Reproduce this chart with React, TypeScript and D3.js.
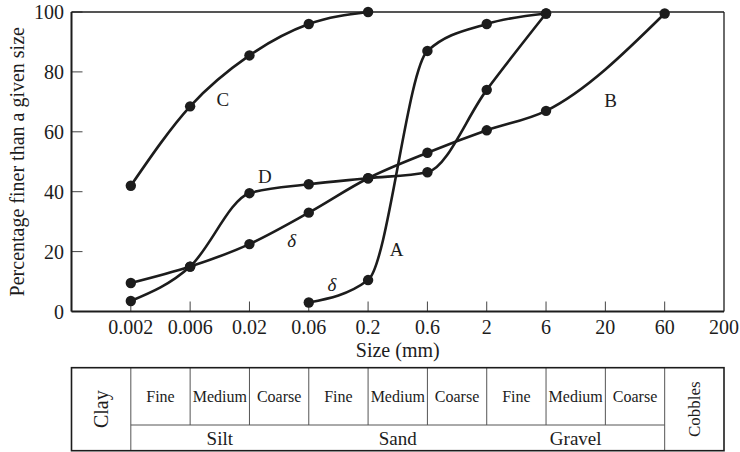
import React from "react";
import * as d3 from "d3";

// ---- data ----
const sizeTicks = ["0.002", "0.006", "0.02", "0.06", "0.2", "0.6", "2", "6", "20", "60", "200"];
const yTicks = [0, 20, 40, 60, 80, 100];

const seriesASizes = ["0.06", "0.2", "0.6", "2", "6"];
const seriesAValues = [3, 10.5, 87, 96, 99.5];

const seriesBSizes = ["0.002", "0.006", "0.02", "0.06", "0.2", "0.6", "2", "6", "60"];
const seriesBValues = [9.5, 15, 22.5, 33, 44.5, 53, 60.5, 67, 99.5];

const seriesCSizes = ["0.002", "0.006", "0.02", "0.06", "0.2"];
const seriesCValues = [42, 68.5, 85.5, 96, 100];

const seriesDSizes = ["0.002", "0.006", "0.02", "0.06", "0.2", "0.6", "2", "6"];
const seriesDValues = [3.5, 15, 39.5, 42.5, 44.5, 46.5, 74, 99.5];

// curve labels: [text, position on size-index axis, percent]
const curveLabels: [string, number, number, boolean][] = [
  ["C", 1.55, 71, false],
  ["D", 2.26, 45.2, false],
  ["B", 8.09, 70.6, false],
  ["A", 4.48, 20.9, false],
  ["δ", 2.71, 23.9, true],
  ["δ", 3.39, 9.2, true],
];

// soil classification table
const subClasses = ["Fine", "Medium", "Coarse", "Fine", "Medium", "Coarse", "Fine", "Medium", "Coarse"];
const mainClasses = ["Silt", "Sand", "Gravel"];
const edgeClasses = ["Clay", "Cobbles"];

const FONT = "'Liberation Serif', 'Times New Roman', Times, serif";
const INK = "#1c1c1c";

export default function App() {
  const W = 740, H = 452;
  const left = 71.5, right = 724, top = 12, bottom = 311.5;
  const x = d3.scaleLinear().domain([-1, sizeTicks.length - 1]).range([left, right]);
  const y = d3.scaleLinear().domain([0, 100]).range([bottom, top]);
  const xi = (s: string) => sizeTicks.indexOf(s);

  const line = d3
    .line<[number, number]>()
    .x((d) => x(d[0]))
    .y((d) => y(d[1]))
    .curve(d3.curveMonotoneX);

  const series = [
    [seriesASizes, seriesAValues],
    [seriesBSizes, seriesBValues],
    [seriesCSizes, seriesCValues],
    [seriesDSizes, seriesDValues],
  ].map(([s, v]) => (s as string[]).map((sz, i) => [xi(sz), (v as number[])[i]] as [number, number]));

  const tTop = 367.7, tMid = 425, tBot = 450.7;

  return (
    <svg
      width={W}
      height={H}
      style={{ position: "absolute", left: 0, top: 0, background: "#fff" }}
      fontFamily={FONT}
    >
      <rect x={0} y={0} width={W} height={H} fill="#fff" />
      {/* ticks */}
      {yTicks.map((t) => (
        <g key={"y" + t}>
          <line x1={left} x2={left + 11} y1={y(t)} y2={y(t)} stroke="#444" strokeWidth={1} />
          <text x={64} y={y(t)} dy="0.35em" textAnchor="end" fontSize={20} fill={INK}>
            {t}
          </text>
        </g>
      ))}
      {sizeTicks.map((t, i) => (
        <g key={"x" + t}>
          {i < sizeTicks.length - 1 && (
            <line x1={x(i)} x2={x(i)} y1={bottom} y2={bottom - 10} stroke="#444" strokeWidth={1} />
          )}
          <text x={x(i)} y={334} textAnchor="middle" fontSize={20} fill={INK}>
            {t}
          </text>
        </g>
      ))}
      {/* frame */}
      <line x1={left} x2={right} y1={top} y2={top} stroke={INK} strokeWidth={1.3} />
      <line x1={right} x2={right} y1={top} y2={bottom} stroke={INK} strokeWidth={1.3} />
      <line x1={left} x2={left} y1={top} y2={bottom} stroke={INK} strokeWidth={2} />
      <line x1={left} x2={right} y1={bottom} y2={bottom} stroke={INK} strokeWidth={2} />

      {/* axis titles */}
      <text x={(left + right) / 2} y={357} textAnchor="middle" fontSize={20} fill={INK}>
        Size (mm)
      </text>
      <text
        transform={`translate(24, ${(top + bottom) / 2}) rotate(-90)`}
        textAnchor="middle"
        fontSize={20}
        fill={INK}
      >
        Percentage finer than a given size
      </text>

      {/* curves */}
      {series.map((pts, k) => (
        <g key={"s" + k}>
          <path d={line(pts) || ""} fill="none" stroke={INK} strokeWidth={2.6} />
          {pts.map((p, j) => (
            <circle key={j} cx={x(p[0])} cy={y(p[1])} r={5.2} fill={INK} />
          ))}
        </g>
      ))}

      {/* curve labels */}
      {curveLabels.map(([t, px, py, it], k) => (
        <text
          key={"l" + k}
          x={x(px)}
          y={y(py)}
          dy="0.35em"
          textAnchor="middle"
          fontSize={19}
          fontStyle={it ? "italic" : "normal"}
          fill={INK}
        >
          {t}
        </text>
      ))}

      {/* classification table */}
      <g>
        {d3.range(1, 9).map((i) => (
          <line key={"v" + i} x1={x(i)} x2={x(i)} y1={tTop} y2={tMid} stroke="#555" strokeWidth={1} />
        ))}
        <line x1={x(0)} x2={x(9)} y1={tMid} y2={tMid} stroke="#555" strokeWidth={1} />
        <line x1={x(0)} x2={x(0)} y1={tTop} y2={tBot} stroke="#555" strokeWidth={1} />
        <line x1={x(9)} x2={x(9)} y1={tTop} y2={tBot} stroke="#555" strokeWidth={1} />
        <rect x={x(-1)} y={tTop} width={x(10) - x(-1)} height={tBot - tTop} fill="none" stroke={INK} strokeWidth={1.6} />
        {subClasses.map((t, i) => (
          <text
            key={"sc" + i}
            x={(x(i) + x(i + 1)) / 2}
            y={(tTop + tMid) / 2}
            dy="0.35em"
            textAnchor="middle"
            fontSize={16}
            fill={INK}
          >
            {t}
          </text>
        ))}
        {mainClasses.map((t, i) => (
          <text
            key={"mc" + i}
            x={(x(i * 3) + x(i * 3 + 3)) / 2}
            y={(tMid + tBot) / 2}
            dy="0.35em"
            textAnchor="middle"
            fontSize={19}
            fill={INK}
          >
            {t}
          </text>
        ))}
        <text
          transform={`translate(${(x(-1) + x(0)) / 2}, ${(tTop + tBot) / 2}) rotate(-90)`}
          dy="0.35em"
          textAnchor="middle"
          fontSize={20}
          fill={INK}
        >
          {edgeClasses[0]}
        </text>
        <text
          transform={`translate(${(x(9) + x(10)) / 2}, ${(tTop + tBot) / 2}) rotate(-90)`}
          dy="0.35em"
          textAnchor="middle"
          fontSize={17}
          fill={INK}
        >
          {edgeClasses[1]}
        </text>
      </g>
    </svg>
  );
}
